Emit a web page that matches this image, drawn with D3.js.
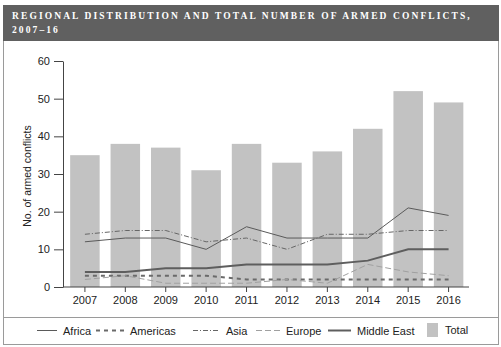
<!DOCTYPE html>
<html>
<head>
<meta charset="utf-8">
<script src="https://cdn.jsdelivr.net/npm/d3@7"></script>
<style>
  body { margin: 0; background: #fff; }
  svg { display: block; }
</style>
</head>
<body>
<svg id="chart" width="501" height="347"></svg>
<script>
var years = ["2007", "2008", "2009", "2010", "2011", "2012", "2013", "2014", "2015", "2016"];
var total = [35, 38, 37, 31, 38, 33, 36, 42, 52, 49];
var africa = [12, 13, 13, 10, 16, 13, 13, 13, 21, 19];
var americas = [3, 3, 3, 3, 2, 2, 2, 2, 2, 2];
var asia = [14, 15, 15, 12, 13, 10, 14, 14, 15, 15];
var europe = [2, 3, 1, 1, 1, 2, 1, 6, 4, 3];
var middleEast = [4, 4, 5, 5, 6, 6, 6, 7, 10, 10];
var yTicks = [0, 10, 20, 30, 40, 50, 60];

var series = [
  { name: "Africa", values: africa, color: "#5a5a5a", width: 1, dash: null },
  { name: "Americas", values: americas, color: "#6a6a6a", width: 2, dash: "4,4" },
  { name: "Asia", values: asia, color: "#666", width: 1, dash: "5,2,1,2" },
  { name: "Europe", values: europe, color: "#a0a0a0", width: 1, dash: "6,3" },
  { name: "Middle East", values: middleEast, color: "#5e5e5e", width: 2, dash: null }
];

var svg = d3.select("#chart");

// frame + header
svg.append("rect")
  .attr("x", 3.5).attr("y", 5.5).attr("width", 495).attr("height", 339)
  .attr("fill", "#fff").attr("stroke", "#9a9a9a");
svg.append("rect")
  .attr("x", 3).attr("y", 5).attr("width", 496).attr("height", 36)
  .attr("fill", "#606060");
var title = svg.append("text")
  .attr("font-family", "'Liberation Serif', serif")
  .attr("font-weight", "bold")
  .attr("font-size", "9.5px")
  .attr("letter-spacing", "2.1px")
  .attr("fill", "#fff");
title.append("tspan").attr("x", 12).attr("y", 18.5)
  .text("REGIONAL DISTRIBUTION AND TOTAL NUMBER OF ARMED CONFLICTS,");
title.append("tspan").attr("x", 12).attr("y", 32.5)
  .text("2007–16");

// legend separator
svg.append("line")
  .attr("x1", 3.5).attr("x2", 498.5).attr("y1", 317.5).attr("y2", 317.5)
  .attr("stroke", "#9a9a9a");

var x = d3.scaleBand().domain(years).range([64.5, 469]).paddingInner(0.27).paddingOuter(0.14);
var y = d3.scaleLinear().domain([0, 60]).range([287, 61]);

// bars
svg.append("g").selectAll("rect")
  .data(total)
  .enter().append("rect")
  .attr("x", function (d, i) { return x(years[i]); })
  .attr("y", function (d) { return y(d); })
  .attr("width", x.bandwidth())
  .attr("height", function (d) { return y(0) - y(d); })
  .attr("fill", "#c2c2c2");

// lines
var line = d3.line()
  .x(function (d, i) { return x(years[i]) + x.bandwidth() / 2; })
  .y(function (d) { return y(d); });

svg.append("g").selectAll("path")
  .data(series)
  .enter().append("path")
  .attr("d", function (d) { return line(d.values); })
  .attr("fill", "none")
  .attr("stroke", function (d) { return d.color; })
  .attr("stroke-width", function (d) { return d.width; })
  .attr("stroke-dasharray", function (d) { return d.dash; });

// axes
var xAxis = svg.append("g")
  .attr("transform", "translate(0," + y(0) + ")")
  .call(d3.axisBottom(x).tickSize(5).tickSizeOuter(0).tickPadding(4));
var yAxis = svg.append("g")
  .attr("transform", "translate(63,0)")
  .call(d3.axisLeft(y).tickValues(yTicks).tickSize(9).tickSizeOuter(0).tickPadding(4));

[xAxis, yAxis].forEach(function (g) {
  g.selectAll("path, line").attr("stroke", "#444");
  g.selectAll("text")
    .attr("font-family", "'Liberation Sans', Arial, sans-serif")
    .attr("font-size", "11px")
    .attr("fill", "#222");
});
xAxis.select(".domain").attr("d", "M63,0H469");

svg.append("text")
  .attr("transform", "translate(31,176) rotate(-90)")
  .attr("text-anchor", "middle")
  .attr("font-family", "'Liberation Sans', Arial, sans-serif")
  .attr("font-size", "10.5px")
  .attr("fill", "#222")
  .text("No. of armed conflicts");

// legend
var legendX = [37, 96, 193, 256, 328];
var legendLen = [20, 28, 27, 24, 23];
var legend = svg.append("g");
series.forEach(function (s, i) {
  legend.append("line")
    .attr("x1", legendX[i]).attr("x2", legendX[i] + legendLen[i])
    .attr("y1", 330.5).attr("y2", 330.5)
    .attr("stroke", s.color)
    .attr("stroke-width", s.width)
    .attr("stroke-dasharray", s.dash);
  legend.append("text")
    .attr("x", legendX[i] + legendLen[i] + 6).attr("y", 334.5)
    .attr("font-family", "'Liberation Sans', Arial, sans-serif")
    .attr("font-size", "11px")
    .attr("fill", "#222")
    .text(s.name);
});
legend.append("rect")
  .attr("x", 427).attr("y", 323).attr("width", 11).attr("height", 14)
  .attr("fill", "#c2c2c2");
legend.append("text")
  .attr("x", 445).attr("y", 333.5)
  .attr("font-family", "'Liberation Sans', Arial, sans-serif")
  .attr("font-size", "11px")
  .attr("fill", "#222")
  .text("Total");
</script>
</body>
</html>
